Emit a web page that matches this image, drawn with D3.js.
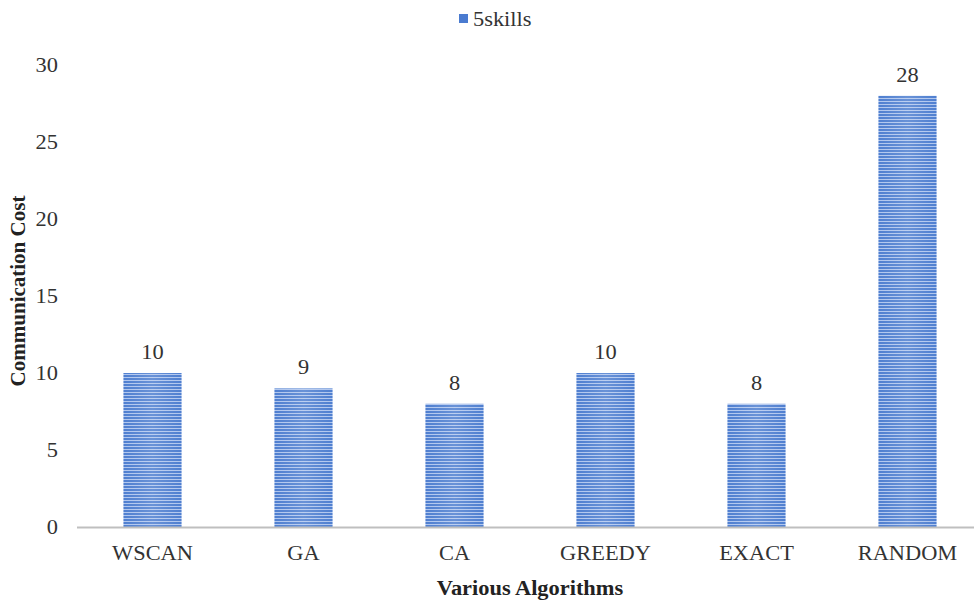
<!DOCTYPE html>
<html>
<head>
<meta charset="utf-8">
<script src="https://cdn.jsdelivr.net/npm/d3@7"></script>
<style>
  html, body { margin: 0; padding: 0; background: #fff; }
  svg { display: block; font-family: "Liberation Serif", "Times New Roman", serif; }
</style>
</head>
<body>
<svg id="chart" width="974" height="604"></svg>
<script>
// Communication cost per algorithm, 5-skill tasks
const algorithms = ["WSCAN", "GA", "CA", "GREEDY", "EXACT", "RANDOM"];
const costs = [10, 9, 8, 10, 8, 28];
const yTicks = [0, 5, 10, 15, 20, 25, 30];
const seriesName = "5skills";

const svg = d3.select("#chart");
const W = 974, H = 604;
const plotLeft = 77, plotRight = 983, plotTop = 65, plotBottom = 527;
const FS = 20;            // base font size
const WIDE = "scale(1.12,1)"; // slightly widened glyphs for horizontal text

const x = d3.scaleBand().domain(algorithms).range([plotLeft, plotRight]).paddingInner(0).paddingOuter(0);
const y = d3.scaleLinear().domain([0, 30]).range([plotBottom, plotTop]);
const barW = x.bandwidth() * 0.385;

// Striped bar fill: thin horizontal lines in two blues, with a soft lighter centre
const defs = svg.append("defs");
const pat = defs.append("pattern")
  .attr("id", "stripes").attr("patternUnits", "userSpaceOnUse")
  .attr("width", 10).attr("height", 3);
pat.append("rect").attr("width", 10).attr("height", 3).attr("fill", "#4f7fd0");
pat.append("rect").attr("y", 2).attr("width", 10).attr("height", 1).attr("fill", "#b0c6ee");

const sheen = defs.append("linearGradient").attr("id", "sheen")
  .attr("x1", "0%").attr("x2", "100%").attr("y1", "0%").attr("y2", "0%");
sheen.append("stop").attr("offset", "0%").attr("stop-color", "#fff").attr("stop-opacity", 0);
sheen.append("stop").attr("offset", "50%").attr("stop-color", "#fff").attr("stop-opacity", 0.15);
sheen.append("stop").attr("offset", "100%").attr("stop-color", "#fff").attr("stop-opacity", 0);

// Y axis tick labels (no axis line)
const yAxis = d3.axisLeft(y).tickValues(yTicks).tickSize(0).tickPadding(0);
const gy = svg.append("g").attr("transform", `translate(${58},0)`).call(yAxis);
gy.select(".domain").remove();
gy.selectAll("text").attr("font-size", FS).attr("fill", "#333")
  .attr("font-family", "Liberation Serif, serif").attr("transform", WIDE);

// Bars
const bars = svg.append("g");
bars.selectAll("rect.bar").data(algorithms).join("rect")
  .attr("class", "bar")
  .attr("x", (d) => x(d) + (x.bandwidth() - barW) / 2)
  .attr("y", (d, i) => y(costs[i]))
  .attr("width", barW)
  .attr("height", (d, i) => y(0) - y(costs[i]))
  .attr("fill", "url(#stripes)");
bars.selectAll("rect.sheen").data(algorithms).join("rect")
  .attr("class", "sheen")
  .attr("x", (d) => x(d) + (x.bandwidth() - barW) / 2)
  .attr("y", (d, i) => y(costs[i]))
  .attr("width", barW)
  .attr("height", (d, i) => y(0) - y(costs[i]))
  .attr("fill", "url(#sheen)");

// Value labels
svg.append("g").selectAll("text").data(algorithms).join("text")
  .attr("transform", (d, i) => `translate(${x(d) + x.bandwidth() / 2},${y(costs[i]) - 14}) ${WIDE}`)
  .attr("text-anchor", "middle")
  .attr("font-size", FS).attr("fill", "#333")
  .text((d, i) => costs[i]);

// X axis baseline and category labels
const xAxis = d3.axisBottom(x).tickSize(0).tickPadding(0);
const gx = svg.append("g").attr("transform", `translate(0,${plotBottom})`).call(xAxis);
gx.select(".domain").remove();
gx.selectAll("text").attr("font-size", FS).attr("fill", "#333")
  .attr("y", 33).attr("dy", 0).attr("transform", WIDE)
  .attr("font-family", "Liberation Serif, serif");
svg.append("line")
  .attr("x1", plotLeft).attr("x2", W).attr("y1", plotBottom + 0.5).attr("y2", plotBottom + 0.5)
  .attr("stroke", "#bfbfbf").attr("stroke-width", 2);

// Axis titles
svg.append("text")
  .attr("transform", `translate(530,595) ${WIDE}`)
  .attr("text-anchor", "middle").attr("font-size", FS).attr("font-weight", "bold").attr("fill", "#222")
  .text("Various Algorithms");
svg.append("text")
  .attr("transform", `translate(25,291) rotate(-90)`)
  .attr("text-anchor", "middle").attr("font-size", 21).attr("font-weight", "bold").attr("fill", "#222")
  .text("Communication Cost");

// Legend
const lg = svg.append("g").attr("transform", "translate(459,14)");
lg.append("rect").attr("width", 9).attr("height", 9).attr("fill", "#4a7bd0");
lg.append("text").attr("transform", `translate(14,12) ${WIDE}`)
  .attr("font-size", FS).attr("fill", "#333").text(seriesName);
</script>
</body>
</html>
